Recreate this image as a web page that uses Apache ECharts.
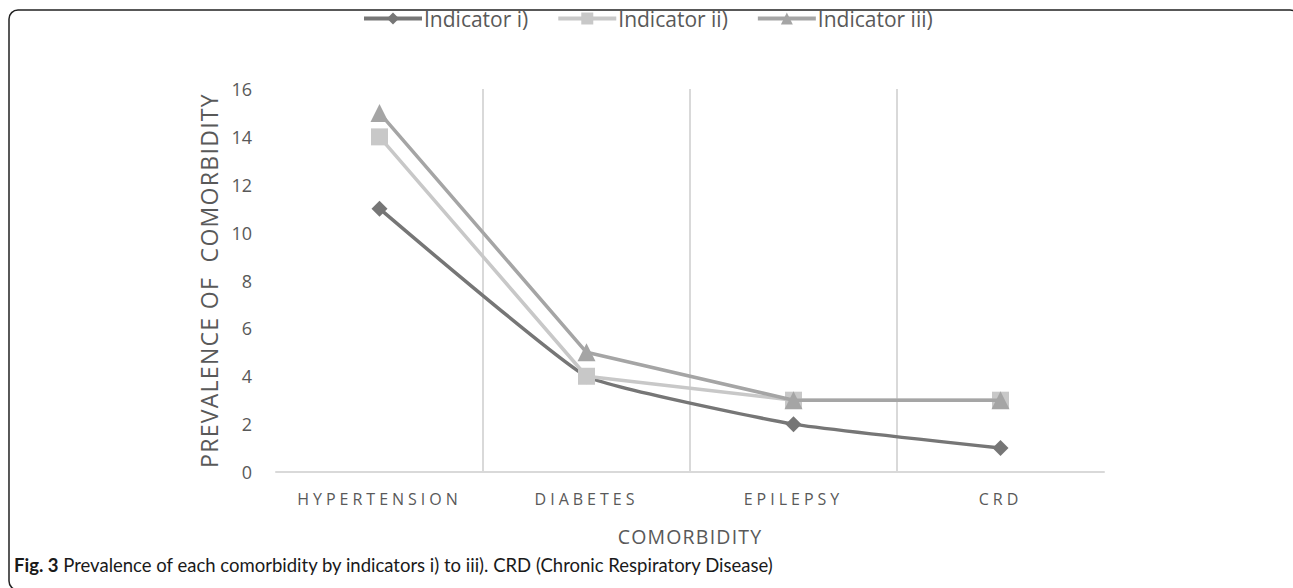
<!DOCTYPE html>
<html>
<head>
<meta charset="utf-8">
<script src="https://cdn.jsdelivr.net/npm/echarts@6/dist/echarts.min.js"></script>
<style>
  html, body { margin: 0; padding: 0; background: #fff; }
  #chart { width: 1293px; height: 588px; }
  #chart text[style*="16px"] { letter-spacing: 4px; }
  #chart text[style*="23px"] { letter-spacing: 1.3px; }
  #chart text[style*="19.5px"] { letter-spacing: 1.2px; }
</style>
</head>
<body>
<div id="chart"></div>
<script>
const categories = ['HYPERTENSION', 'DIABETES', 'EPILEPSY', 'CRD'];
const seriesNames = ['Indicator i)', 'Indicator ii)', 'Indicator iii)'];
const indicatorI = [11, 4, 2, 1];
const indicatorII = [14, 4, 3, 3];
const indicatorIII = [15, 5, 3, 3];
const yTicks = { min: 0, max: 16, interval: 2 };
const xAxisName = 'COMORBIDITY';
const yAxisName = 'PREVALENCE OF  COMORBIDITY';
const captionBold = 'Fig. 3';
const captionText = ' Prevalence of each comorbidity by indicators i) to iii). CRD (Chronic Respiratory Disease)';

const chart = echarts.init(document.getElementById('chart'), null, { renderer: 'svg' });
const font = '"Open Sans", Lato, sans-serif';
const capFont = 'Lato, "Open Sans", sans-serif';
const colors = ['#767676', '#c8c8c8', '#a5a5a5'];
const symbols = ['diamond', 'rect', 'triangle'];
const sizes = [16, 17, 18];
const data = [indicatorI, indicatorII, indicatorIII];

chart.setOption({
  animation: false,
  textStyle: { fontFamily: font },
  legend: {
    top: 3,
    left: 357,
    itemWidth: 58,
    itemHeight: 15,
    itemGap: 28,
    textStyle: { fontSize: 21, color: '#595959', fontFamily: font, padding: [0, 0, 0, -3] },
    data: seriesNames.map((n, i) => ({ name: n, lineStyle: { width: 4, color: colors[i] } }))
  },
  grid: { left: 276, right: 189, top: 89, bottom: 116, containLabel: false },
  xAxis: {
    type: 'category',
    data: categories,
    boundaryGap: true,
    axisLine: { show: true, lineStyle: { color: '#d9d9d9', width: 2 } },
    axisTick: { show: false },
    splitLine: { show: true, showMinLine: false, showMaxLine: false, lineStyle: { color: '#d9d9d9', width: 2 } },
    axisLabel: { color: '#595959', fontSize: 16, margin: 19, fontFamily: font },
    name: xAxisName,
    nameLocation: 'middle',
    nameGap: 54,
    nameTextStyle: { color: '#595959', fontSize: 19.5, fontFamily: font }
  },
  yAxis: {
    type: 'value',
    min: yTicks.min,
    max: yTicks.max,
    interval: yTicks.interval,
    axisLine: { show: false },
    axisTick: { show: false },
    splitLine: { show: false },
    axisLabel: { color: '#595959', fontSize: 18, margin: 24, fontFamily: font },
    name: yAxisName,
    nameLocation: 'middle',
    nameGap: 54,
    nameRotate: 90,
    nameTextStyle: { color: '#595959', fontSize: 23, fontFamily: font }
  },
  graphic: [
    {
      type: 'rect',
      shape: { x: 9, y: 10, width: 1290, height: 580, r: 9 },
      style: { fill: 'none', stroke: '#222', lineWidth: 1.5 },
      silent: true
    },
    {
      type: 'text',
      left: 14,
      top: 555,
      style: {
        text: '{b|' + captionBold + '}{n|' + captionText + '}',
        rich: {
          b: { fontWeight: 'bold', fontSize: 18.5, fill: '#1a1a1a', fontFamily: capFont },
          n: { fontSize: 18.5, fill: '#1a1a1a', fontFamily: capFont }
        }
      }
    }
  ],
  series: seriesNames.map((name, i) => ({
    name: name,
    type: 'line',
    data: data[i],
    symbol: symbols[i],
    symbolSize: sizes[i],
    smooth: i === 0 ? 0.12 : false,
    lineStyle: { color: colors[i], width: 3.5 },
    itemStyle: { color: colors[i] },
    z: 2 + i
  }))
});
</script>
</body>
</html>
